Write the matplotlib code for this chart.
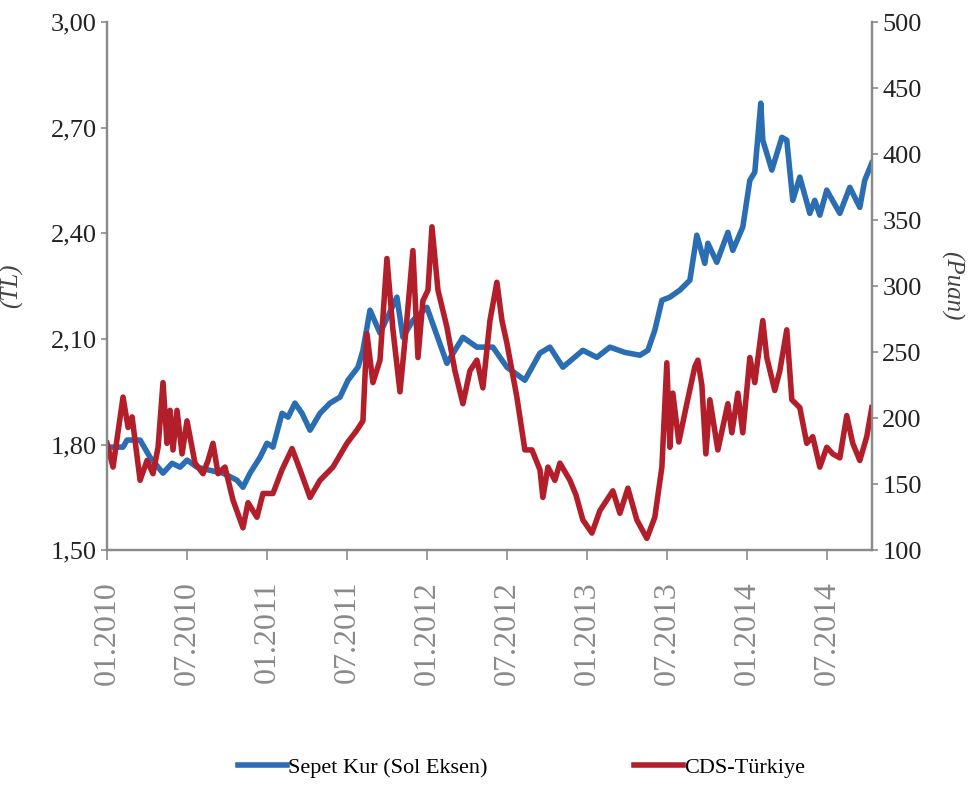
import matplotlib.pyplot as plt
import numpy as np

# months since 01.2010
sepet_months = [0, 1.2, 1.5, 2.48, 3.23, 4.2, 4.88, 5.48, 6.0, 6.75, 7.73, 8.7, 9.75,
                10.2, 10.73, 11.48, 12.0, 12.45, 13.13, 13.58, 14.1, 14.63, 15.23, 15.98,
                16.73, 17.48, 18.08, 18.83, 19.2, 19.73, 20.48, 21.75, 22.2, 22.95, 24.0,
                25.5, 26.7, 27.75, 28.95, 30.0, 31.35, 32.48, 33.23, 34.2, 35.7, 36.75,
                37.73, 38.85, 39.98, 40.58, 41.1, 41.63, 42.23, 42.98, 43.73, 44.25,
                44.85, 45.08, 45.75, 46.58, 46.95, 47.7, 48.23, 48.6, 49.05, 49.2, 49.88,
                50.63, 51.0, 51.45, 51.98, 52.73, 53.1, 53.48, 54.0, 54.98, 55.73, 56.48,
                56.85, 57.38]
sepet_kur = [1.793, 1.793, 1.813, 1.813, 1.764, 1.719, 1.747, 1.736, 1.756, 1.736, 1.727, 1.719, 1.699,
             1.679, 1.719, 1.764, 1.804, 1.793, 1.889, 1.878, 1.918, 1.889, 1.841, 1.889,
             1.918, 1.935, 1.983, 2.02, 2.068, 2.182, 2.117, 2.219, 2.105, 2.153, 2.19,
             2.031, 2.105, 2.077, 2.077, 2.02, 1.983, 2.06, 2.077, 2.02, 2.068, 2.048,
             2.077, 2.062, 2.054, 2.068, 2.125, 2.21, 2.219, 2.239, 2.267, 2.395,
             2.315, 2.372, 2.318, 2.403, 2.352, 2.418, 2.551, 2.574, 2.77, 2.665, 2.58,
             2.673, 2.665, 2.494, 2.56, 2.457, 2.494, 2.452, 2.523, 2.457, 2.531, 2.474,
             2.551, 2.6]

cds_months = [0, 0.45, 1.2, 1.58, 1.88, 2.48, 3.0, 3.45, 3.83, 4.2, 4.5, 4.73, 4.95, 5.25,
              5.63, 6.0, 6.6, 7.2, 7.58, 7.95, 8.33, 8.85, 9.45, 10.2, 10.58, 11.25, 11.7,
              12.45, 13.13, 13.88, 14.48, 15.23, 15.98, 16.95, 18.0, 18.75, 19.2, 19.5,
              19.95, 20.48, 21.0, 21.45, 21.98, 22.43, 22.95, 23.33, 23.7, 24.08, 24.38,
              24.83, 25.5, 26.1, 26.7, 27.23, 27.75, 28.2, 28.73, 29.25, 29.63, 30.0,
              30.75, 31.35, 31.88, 32.48, 32.7, 33.08, 33.6, 33.98, 34.73, 35.18, 35.7,
              36.38, 36.98, 37.95, 38.48, 39.08, 39.75, 40.5, 41.1, 41.63, 42.0, 42.23,
              42.45, 42.9, 43.5, 44.1, 44.33, 44.63, 44.93, 45.23, 45.83, 46.58, 46.88,
              47.33, 47.7, 48.23, 48.6, 49.2, 49.5, 50.1, 50.48, 51.0, 51.38, 51.98,
              52.5, 52.95, 53.48, 54.0, 54.45, 54.98, 55.5, 55.95, 56.48, 57.0, 57.38]
cds = [181, 163, 216, 193, 201, 153, 168, 158, 178, 227, 181, 206, 176, 206,
       173, 198, 166, 158, 168, 181, 158, 163, 138, 117, 136, 125, 143,
       143, 161, 177, 161, 140, 153, 163, 181, 191, 198, 264,
       227, 244, 321, 267, 220, 267, 327, 246, 289, 297, 345,
       297, 269, 236, 211, 236, 244, 223, 274, 303, 274, 257,
       216, 176, 176, 161, 140, 163, 153, 166, 153, 142, 123,
       113, 130, 145, 128, 147, 123, 109, 125, 163, 242, 178,
       219, 182, 211, 239, 244, 225, 173, 214, 176, 211, 189,
       219, 189, 246, 227, 274, 246, 221, 236, 267, 214, 208,
       181, 186, 163, 178, 173, 170, 202, 181, 168, 186, 208]

tick_months = [0, 6, 12, 18, 24, 30, 36, 42, 48, 54]
tick_labels = ['01.2010', '07.2010', '01.2011', '07.2011', '01.2012',
               '07.2012', '01.2013', '07.2013', '01.2014', '07.2014']

blue = '#2A6DB2'
red = '#B21E2A'
spine_c = '#8a8a8a'
plt.rcParams['font.family'] = ['Liberation Serif', 'DejaVu Serif']

fig = plt.figure(figsize=(9.73, 7.94), dpi=100)
ax = fig.add_axes([0.110, 0.307, 0.786, 0.665])
ax2 = ax.twinx()

l1, = ax.plot(sepet_months, sepet_kur, color=blue, lw=4, label='Sepet Kur (Sol Eksen)')
l2, = ax2.plot(cds_months, cds, color=red, lw=4, label='CDS-Türkiye')

ax.set_xlim(0, 57.38)
ax.set_ylim(1.5, 3.0)
ax2.set_ylim(100, 500)
ax.set_yticks(np.arange(1.5, 3.01, 0.3))
ax.set_yticklabels([f'{v:.2f}'.replace('.', ',') for v in np.arange(1.5, 3.01, 0.3)])
ax2.set_yticks(range(100, 501, 50))
ax.set_xticks(tick_months)
ax.set_xticklabels(tick_labels, rotation=90, color='#666666', fontsize=23)

for a in (ax, ax2):
    a.spines['top'].set_visible(False)
    for s in ('left', 'right', 'bottom'):
        a.spines[s].set_color(spine_c)
        a.spines[s].set_linewidth(1.6)
    a.tick_params(axis='y', colors=spine_c, labelcolor='#222222', labelsize=19,
                  length=4, width=1.2)
ax.tick_params(axis='x', colors=spine_c, length=7, width=1.2, pad=15)

ax.set_ylabel('(TL)', fontsize=18, style='italic', color='#444444', labelpad=20)
ax2.set_ylabel('(Puan)', fontsize=18, style='italic', color='#444444', rotation=270,
               labelpad=30)

fig.legend(handles=[l1, l2], loc='center', bbox_to_anchor=(0.536, 0.033), ncol=2,
           frameon=False, fontsize=16, columnspacing=6.6, handlelength=2.2,
           handletextpad=0.05)

fig.savefig('out.png', dpi=100)
